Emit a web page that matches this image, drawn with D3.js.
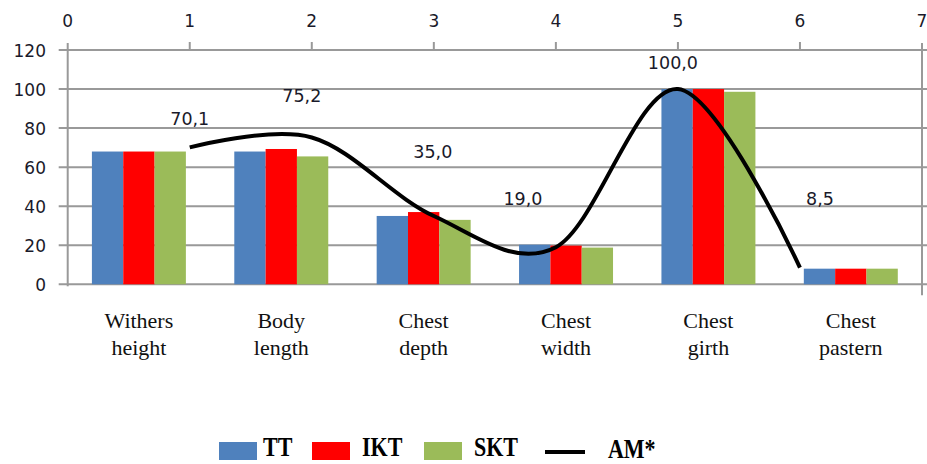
<!DOCTYPE html>
<html>
<head>
<meta charset="utf-8">
<script src="https://cdn.jsdelivr.net/npm/d3@7"></script>
<style>
  body { margin: 0; background: #fff; }
  svg { display: block; }
</style>
</head>
<body>
<div id="chart"></div>
<script>
// categories and series
const categorias = [["Withers", "height"], ["Body", "length"], ["Chest", "depth"], ["Chest", "width"], ["Chest", "girth"], ["Chest", "pastern"]];
const series = ["TT", "IKT", "SKT"];
const valoresTT = [68, 68, 35, 20.3, 100, 8];
const valoresIKT = [68, 69.3, 37, 19.8, 100, 8];
const valoresSKT = [68, 65.5, 33, 18.8, 98.6, 8];
// AM* line (top x axis 0..7)
const amX = [1, 2, 3, 4, 5, 6];
const amY = [70.1, 75.2, 35.0, 19.0, 100.0, 8.5];
const amEtiquetas = ["70,1", "75,2", "35,0", "19,0", "100,0", "8,5"];
const ticksY = [0, 20, 40, 60, 80, 100, 120];
const ticksX = [0, 1, 2, 3, 4, 5, 6, 7];

const colores = { TT: "#4f81bd", IKT: "#ff0000", SKT: "#9bbb59" };
const W = 927, H = 464;
const margen = { left: 67.7, right: 922, top: 50, bottom: 284.3 };

const svg = d3.select("#chart").append("svg")
    .attr("width", W)
    .attr("height", H);

const yScale = d3.scaleLinear().domain([0, 120]).range([margen.bottom, margen.top]);
const xTop = d3.scaleLinear().domain([0, 7]).range([margen.left, margen.right]);
const xCat = d3.scaleBand()
    .domain(d3.range(categorias.length))
    .range([margen.left, margen.right])
    .paddingInner(0.34)
    .paddingOuter(0.17);
const xSerie = d3.scaleBand().domain(series).range([0, xCat.bandwidth()]);

// lineas de la cuadricula
svg.append("g").selectAll("line")
    .data(ticksY)
    .enter()
    .append("line")
    .attr("x1", margen.left - 9)
    .attr("x2", W)
    .attr("y1", d => yScale(d))
    .attr("y2", d => yScale(d))
    .attr("stroke", "#999")
    .attr("stroke-width", 2);

// eje izquierdo
svg.append("line")
    .attr("x1", margen.left).attr("x2", margen.left)
    .attr("y1", margen.top - 7).attr("y2", margen.bottom + 2)
    .attr("stroke", "#999").attr("stroke-width", 2);

// eje derecho
svg.append("line")
    .attr("x1", margen.right).attr("x2", margen.right)
    .attr("y1", margen.top - 7).attr("y2", margen.bottom + 11)
    .attr("stroke", "#999").attr("stroke-width", 2);

// marcas del eje superior
svg.append("g").selectAll("line")
    .data(ticksX.slice(1, 7))
    .enter()
    .append("line")
    .attr("x1", d => xTop(d)).attr("x2", d => xTop(d))
    .attr("y1", margen.top - 8).attr("y2", margen.top)
    .attr("stroke", "#999").attr("stroke-width", 2);

// etiquetas de los ejes
svg.append("g").selectAll("text")
    .data(ticksX)
    .enter()
    .append("text")
    .text(d => d)
    .attr("x", d => xTop(d))
    .attr("y", 27)
    .attr("text-anchor", "middle")
    .attr("fill", "#1a1a2a")
    .style("font-family", "DejaVu Sans")
    .style("font-size", "17px");

svg.append("g").selectAll("text")
    .data(ticksY)
    .enter()
    .append("text")
    .text(d => d)
    .attr("x", 46)
    .attr("y", d => yScale(d) + 7)
    .attr("text-anchor", "end")
    .attr("fill", "#1a1a2a")
    .style("font-family", "DejaVu Sans")
    .style("font-size", "17px");

// barras
const tabla = categorias.map((c, i) => ({
    i: i,
    valores: [
        { serie: "TT", v: valoresTT[i] },
        { serie: "IKT", v: valoresIKT[i] },
        { serie: "SKT", v: valoresSKT[i] }
    ]
}));

const grupos = svg.append("g").selectAll("g")
    .data(tabla)
    .enter()
    .append("g")
    .attr("transform", d => `translate(${xCat(d.i)},0)`);

grupos.selectAll("rect")
    .data(d => d.valores)
    .enter()
    .append("rect")
    .attr("x", d => xSerie(d.serie))
    .attr("y", d => yScale(d.v))
    .attr("width", xSerie.bandwidth())
    .attr("height", d => yScale(0) - yScale(d.v))
    .attr("fill", d => colores[d.serie]);

// etiquetas de categorias
const etiquetasCat = svg.append("g").selectAll("text")
    .data(categorias)
    .enter()
    .append("text")
    .attr("text-anchor", "middle")
    .attr("fill", "#111")
    .style("font-family", "Liberation Serif")
    .style("font-size", "22px");

etiquetasCat.selectAll("tspan")
    .data((d, i) => d.map(t => ({ t: t, i: i })))
    .enter()
    .append("tspan")
    .attr("x", d => xCat(d.i) + xCat.bandwidth() / 2)
    .attr("y", (d, j) => 328 + j * 27)
    .text(d => d.t);

// linea AM* suavizada
const puntos = amX.map((x, i) => [x, amY[i]]);
const linea = d3.line()
    .x(d => xTop(d[0]))
    .y(d => yScale(d[1]))
    .curve(d3.curveCatmullRom.alpha(0));

svg.append("path")
    .datum(puntos)
    .attr("fill", "none")
    .attr("stroke", "#000")
    .attr("stroke-width", 4)
    .attr("d", linea);

// etiquetas de datos (desplazamientos manuales)
const despl = [[0, -22], [-10, -35], [-1, -58], [-33, -42], [-5, -20], [20, -63]];
svg.append("g").selectAll("text")
    .data(puntos)
    .enter()
    .append("text")
    .text((d, i) => amEtiquetas[i])
    .attr("x", (d, i) => xTop(d[0]) + despl[i][0])
    .attr("y", (d, i) => yScale(d[1]) + despl[i][1])
    .attr("text-anchor", "middle")
    .attr("fill", "#1a1a2a")
    .style("font-family", "DejaVu Sans")
    .style("font-size", "17.5px");

// leyenda
const leyenda = [
    { nombre: "TT", tipo: "rect", x: 219, tx: 263 },
    { nombre: "IKT", tipo: "rect", x: 312, tx: 362 },
    { nombre: "SKT", tipo: "rect", x: 424, tx: 474 },
    { nombre: "AM*", tipo: "linea", x: 545, tx: 608 }
];

const ley = svg.append("g");
leyenda.forEach(d => {
    if (d.tipo === "rect") {
        ley.append("rect")
            .attr("x", d.x).attr("y", 442)
            .attr("width", 38).attr("height", 18)
            .attr("fill", colores[d.nombre]);
    } else {
        ley.append("line")
            .attr("x1", d.x).attr("x2", d.x + 40)
            .attr("y1", 452).attr("y2", 452)
            .attr("stroke", "#000").attr("stroke-width", 4);
    }
    const by = d.tipo === "rect" ? 456 : 458;
    ley.append("text")
        .text(d.nombre)
        .attr("transform", `translate(${d.tx},${by}) scale(1,1.27)`)
        .attr("fill", "#000")
        .style("font-family", "Liberation Serif")
        .style("font-weight", "bold")
        .style("font-size", "22px");
});
</script>
</body>
</html>
